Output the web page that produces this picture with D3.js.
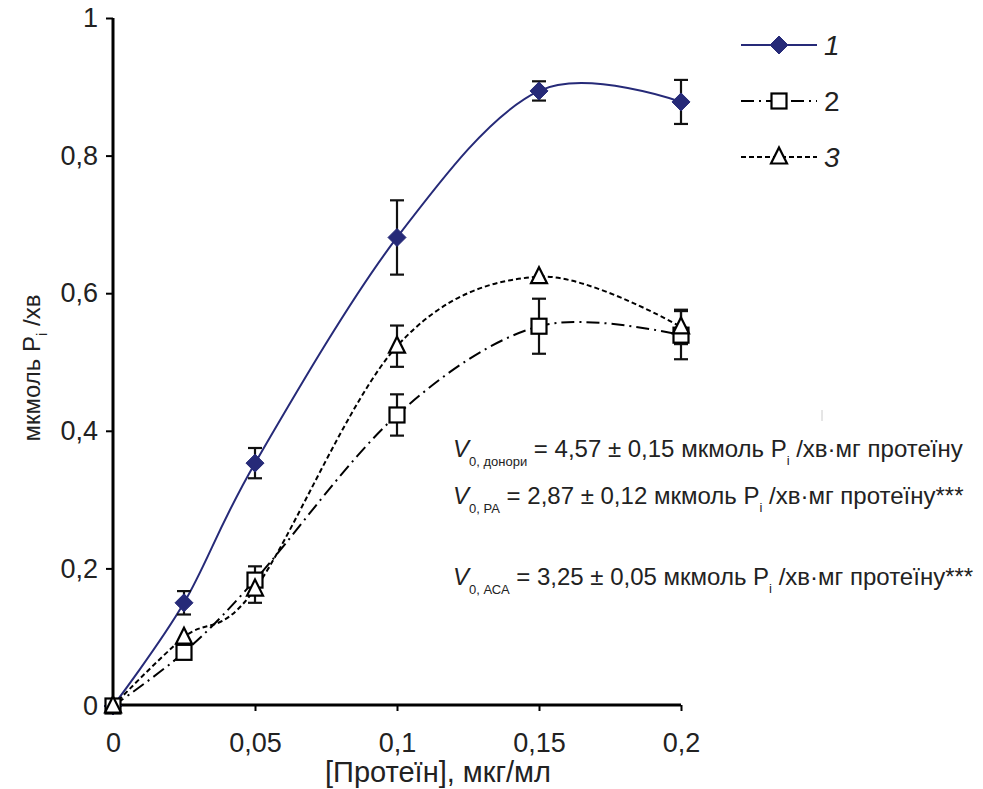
<!DOCTYPE html>
<html>
<head>
<meta charset="utf-8">
<script src="https://cdn.jsdelivr.net/npm/d3@7"></script>
<style>
  body { margin: 0; background: #fff; }
  text { font-family: "Liberation Sans", Arial, sans-serif; }
</style>
</head>
<body>
<div id="chart"></div>
<script>
// data
const conc = [0, 0.025, 0.05, 0.1, 0.15, 0.2];
const donors = [0, 0.150, 0.353, 0.681, 0.894, 0.878];
const donorsErr = [0, 0.017, 0.022, 0.054, 0.014, 0.032];
const ra = [0, 0.078, 0.183, 0.423, 0.552, 0.539];
const raErr = [0, 0, 0.02, 0.03, 0.04, 0.035];
const aca = [0, 0.100, 0.170, 0.523, 0.624, 0.551];
const acaErr = [0, 0, 0.02, 0.03, 0, 0.025];
const xTicks = [0, 0.05, 0.1, 0.15, 0.2];
const yTicks = [0, 0.2, 0.4, 0.6, 0.8, 1];

const W = 983, H = 789;
const svg = d3.select("#chart").append("svg")
  .attr("width", W).attr("height", H);

const x = d3.scaleLinear().domain([0, 0.2]).range([113, 681]);
const y = d3.scaleLinear().domain([0, 1]).range([706, 18]);
const fmt = d => String(d).replace(".", ",");

//------- axes -------
const yAxis = svg.append("g")
  .attr("transform", "translate(113,0)")
  .call(d3.axisLeft(y).tickValues(yTicks).tickSize(7).tickPadding(8).tickFormat(fmt));
yAxis.select(".domain").attr("stroke-width", 3).attr("d", "M0," + y(1) + "V" + (y(0) + 1));
yAxis.selectAll(".tick line").attr("stroke-width", 2);
yAxis.selectAll("text").style("font-size", "27px").attr("fill", "#222");

const xAxis = svg.append("g")
  .attr("transform", "translate(0,705)")
  .call(d3.axisBottom(x).tickValues(xTicks).tickSize(6).tickPadding(22).tickFormat(fmt));
xAxis.select(".domain").attr("stroke-width", 3).attr("d", "M" + (x(0) - 1) + ",0H" + x(0.2));
xAxis.selectAll(".tick line").attr("stroke-width", 2);
xAxis.selectAll(".tick").filter(d => d === 0).select("line").remove();
xAxis.selectAll("text").style("font-size", "27px").attr("fill", "#222");

svg.append("text")
  .attr("x", 438).attr("y", 782)
  .attr("text-anchor", "middle")
  .style("font-size", "29px").attr("fill", "#222")
  .text("[Протеїн], мкг/мл");

const yl = svg.append("text")
  .attr("transform", "translate(40,368) rotate(-90)")
  .attr("text-anchor", "middle")
  .style("font-size", "24px").attr("fill", "#222");
yl.append("tspan").text("мкмоль P");
yl.append("tspan").attr("dy", 7).style("font-size", "15px").text("i");
yl.append("tspan").attr("dy", -7).text(" /хв");

//------- series -------
const series = [
  { vals: donors, err: donorsErr, color: "#262a78", dash: null, marker: "diamond" },
  { vals: ra, err: raErr, color: "#000", dash: "13,5,2,5", marker: "square" },
  { vals: aca, err: acaErr, color: "#000", dash: "5,3", marker: "triangle" }
];

const line = d3.line()
  .x((d, i) => x(conc[i]))
  .y(d => y(d))
  .curve(d3.curveCardinal.tension(0));

series.forEach(s => {
  svg.append("path")
    .attr("d", line(s.vals))
    .attr("fill", "none")
    .attr("stroke", s.color)
    .attr("stroke-width", 2)
    .attr("stroke-dasharray", s.dash);
});

// error bars
series.forEach(s => {
  const g = svg.append("g").attr("stroke", "#111").attr("stroke-width", 2.2);
  s.vals.forEach((v, i) => {
    if (!s.err[i]) return;
    const cx = x(conc[i]);
    const y0 = y(v - s.err[i]), y1 = y(v + s.err[i]);
    g.append("line").attr("x1", cx).attr("x2", cx).attr("y1", y0).attr("y2", y1);
    g.append("line").attr("x1", cx - 7).attr("x2", cx + 7).attr("y1", y0).attr("y2", y0);
    g.append("line").attr("x1", cx - 7).attr("x2", cx + 7).attr("y1", y1).attr("y2", y1);
  });
});

function drawMarker(g, type, cx, cy, color) {
  if (type === "diamond") {
    g.append("path")
      .attr("d", `M${cx},${cy - 9}L${cx + 9},${cy}L${cx},${cy + 9}L${cx - 9},${cy}Z`)
      .attr("fill", color).attr("stroke", color).attr("stroke-width", 1);
  } else if (type === "square") {
    g.append("rect")
      .attr("x", cx - 7.5).attr("y", cy - 7.5).attr("width", 15).attr("height", 15)
      .attr("fill", "#fff").attr("stroke", "#000").attr("stroke-width", 2.2);
  } else {
    g.append("path")
      .attr("d", `M${cx},${cy - 9.5}L${cx + 8},${cy + 6.5}L${cx - 8},${cy + 6.5}Z`)
      .attr("fill", "#fff").attr("stroke", "#000").attr("stroke-width", 2.2)
      .attr("stroke-linejoin", "miter");
  }
}

series.forEach(s => {
  const g = svg.append("g");
  s.vals.forEach((v, i) => drawMarker(g, s.marker, x(conc[i]), y(v), s.color));
});

//------- legend -------
const legendLabels = ["1", "2", "3"];
const legendItalic = [true, false, true];
series.forEach((s, i) => {
  const ly = 45 + i * 56;
  const g = svg.append("g");
  g.append("line")
    .attr("x1", 741).attr("x2", 817).attr("y1", ly).attr("y2", ly)
    .attr("stroke", s.color).attr("stroke-width", 2)
    .attr("stroke-dasharray", s.dash);
  drawMarker(g, s.marker, 779, ly, s.color);
  g.append("text")
    .attr("x", 824).attr("y", ly + 10)
    .style("font-size", "28px")
    .style("font-style", legendItalic[i] ? "italic" : "normal")
    .attr("fill", "#222")
    .text(legendLabels[i]);
});

//------- annotations -------
const notes = [
  { sub: "0, донори", val: " = 4,57 ± 0,15 мкмоль P", tail: " /хв·мг протеїну", y: 457 },
  { sub: "0, РА", val: " = 2,87 ± 0,12 мкмоль P", tail: " /хв·мг протеїну***", y: 504 },
  { sub: "0, АСА", val: " = 3,25 ± 0,05 мкмоль P", tail: " /хв·мг протеїну***", y: 585 }
];
notes.forEach(n => {
  const t = svg.append("text")
    .attr("x", 453).attr("y", n.y)
    .style("font-size", "24px").attr("fill", "#222");
  t.append("tspan").style("font-style", "italic").text("V");
  t.append("tspan").attr("dy", 9).style("font-size", "13px").text(n.sub);
  t.append("tspan").attr("dy", -9).text(n.val);
  t.append("tspan").attr("dy", 8).style("font-size", "13px").text("i");
  t.append("tspan").attr("dy", -8).text(n.tail);
});

// faint stray mark in the source picture
svg.append("line")
  .attr("x1", 822).attr("x2", 822).attr("y1", 410).attr("y2", 421)
  .attr("stroke", "#ccc").attr("stroke-width", 1);
</script>
</body>
</html>
